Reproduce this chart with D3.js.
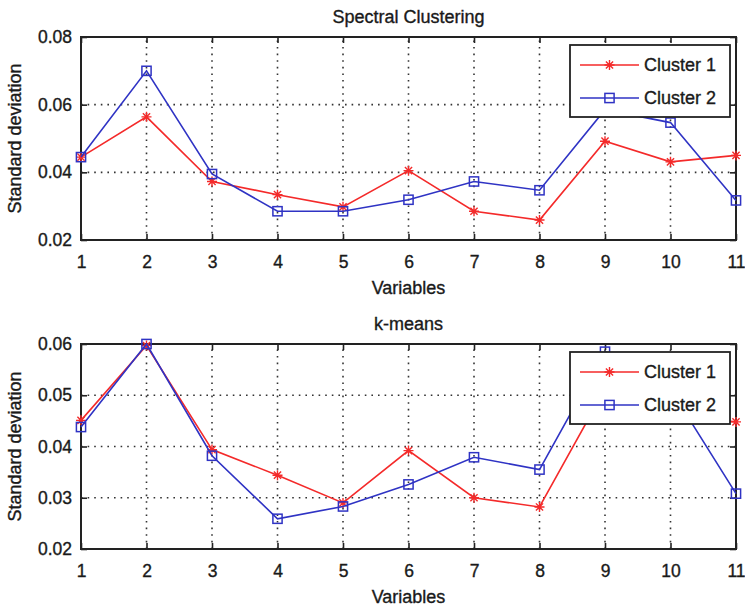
<!DOCTYPE html>
<html>
<head>
<meta charset="utf-8">
<script src="https://cdn.jsdelivr.net/npm/d3@7"></script>
<style>
  html, body { margin: 0; padding: 0; background: #fff; }
  svg { display: block; }
  text { font-family: "Liberation Sans", Arial, Helvetica, sans-serif; fill: #1a1a1a; stroke: #1a1a1a; stroke-width: 0.35px; }
</style>
</head>
<body>
<svg id="chart" width="745" height="608"></svg>
<script>
// Variable index on the x axis
const variables = [1, 2, 3, 4, 5, 6, 7, 8, 9, 10, 11];

// Standard deviation per variable, spectral clustering
const spectralCluster1 = [0.0445, 0.0564, 0.0373, 0.0334, 0.0298, 0.0405, 0.0285, 0.0259, 0.0492, 0.0431, 0.0450];
const spectralCluster2 = [0.0445, 0.0700, 0.0395, 0.0285, 0.0285, 0.0319, 0.0373, 0.0347, 0.0585, 0.0547, 0.0317];

// Standard deviation per variable, k-means
const kmeansCluster1 = [0.0451, 0.0597, 0.0394, 0.0344, 0.0290, 0.0392, 0.0300, 0.0282, 0.0512, 0.0460, 0.0448];
const kmeansCluster2 = [0.0438, 0.0600, 0.0382, 0.0259, 0.0283, 0.0326, 0.0379, 0.0355, 0.0585, 0.0512, 0.0308];

// Tick values
const spectralYTicks = [0.02, 0.04, 0.06, 0.08];
const kmeansYTicks = [0.02, 0.03, 0.04, 0.05, 0.06];

const seriesNames = ["Cluster 1", "Cluster 2"];
const RED = "#f42a2a";
const BLUE = "#2f33c4";

const svg = d3.select("#chart");

function drawStar(g, x, y, color) {
  const r = 5;
  const d = r * 0.72;
  const p = `M${x - r},${y}L${x + r},${y}M${x},${y - r}L${x},${y + r}` +
            `M${x - d},${y - d}L${x + d},${y + d}M${x - d},${y + d}L${x + d},${y - d}`;
  g.append("path").attr("d", p).attr("stroke", color).attr("stroke-width", 1.4).attr("fill", "none");
}
function drawSquare(g, x, y, color) {
  const s = 4.6;
  g.append("rect").attr("x", x - s).attr("y", y - s).attr("width", 2 * s).attr("height", 2 * s)
    .attr("fill", "none").attr("stroke", color).attr("stroke-width", 1.5);
}

function panel(opts) {
  const { top, bottom, yDomain, yTicks, title, c1, c2 } = opts;
  const left = 81, right = 736;
  const x = d3.scaleLinear().domain([1, 11]).range([left, right]);
  const y = d3.scaleLinear().domain(yDomain).range([bottom, top]);
  const g = svg.append("g");

  // dotted grid
  const grid = g.append("g").attr("stroke", "#333").attr("stroke-width", 1.6)
    .attr("stroke-dasharray", "1.6,5").attr("fill", "none");
  variables.slice(1, -1).forEach(v => {
    grid.append("line").attr("x1", x(v)).attr("x2", x(v)).attr("y1", bottom).attr("y2", top);
  });
  yTicks.slice(1, -1).forEach(t => {
    grid.append("line").attr("x1", left).attr("x2", right).attr("y1", y(t)).attr("y2", y(t));
  });

  // axes via d3 axis generators, ticks drawn inward
  const fmt = d3.format(".2f");
  const axB = g.append("g").attr("transform", `translate(0,${bottom})`)
    .call(d3.axisBottom(x).tickValues(variables).tickFormat(d3.format("d")).tickSize(-6).tickPadding(16));
  const axT = g.append("g").attr("transform", `translate(0,${top})`)
    .call(d3.axisTop(x).tickValues(variables).tickFormat("").tickSize(-6));
  const axL = g.append("g").attr("transform", `translate(${left},0)`)
    .call(d3.axisLeft(y).tickValues(yTicks).tickFormat(fmt).tickSize(-6).tickPadding(9));
  const axR = g.append("g").attr("transform", `translate(${right},0)`)
    .call(d3.axisRight(y).tickValues(yTicks).tickFormat("").tickSize(-6));
  [axB, axT, axL, axR].forEach(a => {
    a.select(".domain").remove();
    a.selectAll("line").attr("stroke", "#222").attr("stroke-width", 1.6);
    a.selectAll("text").attr("font-size", 17.5)
      .style("font-family", "'Liberation Sans', Arial, sans-serif")
      .attr("fill", "#1a1a1a").attr("stroke", "#1a1a1a").attr("stroke-width", 0.35);
  });
  axB.selectAll("text").attr("dy", "0.71em");

  // box
  g.append("rect").attr("x", left).attr("y", top).attr("width", right - left).attr("height", bottom - top)
    .attr("fill", "none").attr("stroke", "#222").attr("stroke-width", 2);

  // series
  const line = d3.line().x((d, i) => x(variables[i])).y(d => y(d));
  g.append("path").datum(c1).attr("d", line).attr("fill", "none").attr("stroke", RED).attr("stroke-width", 1.6);
  c1.forEach((v, i) => drawStar(g, x(variables[i]), y(v), RED));
  g.append("path").datum(c2).attr("d", line).attr("fill", "none").attr("stroke", BLUE).attr("stroke-width", 1.6);
  c2.forEach((v, i) => drawSquare(g, x(variables[i]), y(v), BLUE));

  // titles and labels
  g.append("text").attr("x", (left + right) / 2).attr("y", top - 14).attr("text-anchor", "middle")
    .attr("font-size", 18).text(title);
  g.append("text").attr("x", (left + right) / 2).attr("y", bottom + 54).attr("text-anchor", "middle")
    .attr("font-size", 18).text("Variables");
  g.append("text").attr("transform", `translate(21,${(top + bottom) / 2}) rotate(-90)`)
    .attr("text-anchor", "middle").attr("font-size", 18).text("Standard deviation");

  // legend
  const lx = 570, ly = top + 8, lw = 160, lh = 72;
  const lg = g.append("g");
  lg.append("rect").attr("x", lx).attr("y", ly).attr("width", lw).attr("height", lh)
    .attr("fill", "#fff").attr("stroke", "#222").attr("stroke-width", 1.8);
  seriesNames.forEach((name, i) => {
    const cy = ly + 20 + i * 33;
    const color = i === 0 ? RED : BLUE;
    lg.append("line").attr("x1", lx + 10).attr("x2", lx + 69).attr("y1", cy).attr("y2", cy)
      .attr("stroke", color).attr("stroke-width", 1.6);
    if (i === 0) drawStar(lg, lx + 39.5, cy, color); else drawSquare(lg, lx + 39.5, cy, color);
    lg.append("text").attr("x", lx + 74).attr("y", cy).attr("dy", "0.36em")
      .attr("font-size", 18).text(name);
  });
}

panel({ top: 37, bottom: 240, yDomain: [0.02, 0.08], yTicks: spectralYTicks,
        title: "Spectral Clustering", c1: spectralCluster1, c2: spectralCluster2 });
panel({ top: 344, bottom: 549, yDomain: [0.02, 0.06], yTicks: kmeansYTicks,
        title: "k-means", c1: kmeansCluster1, c2: kmeansCluster2 });
</script>
</body>
</html>
